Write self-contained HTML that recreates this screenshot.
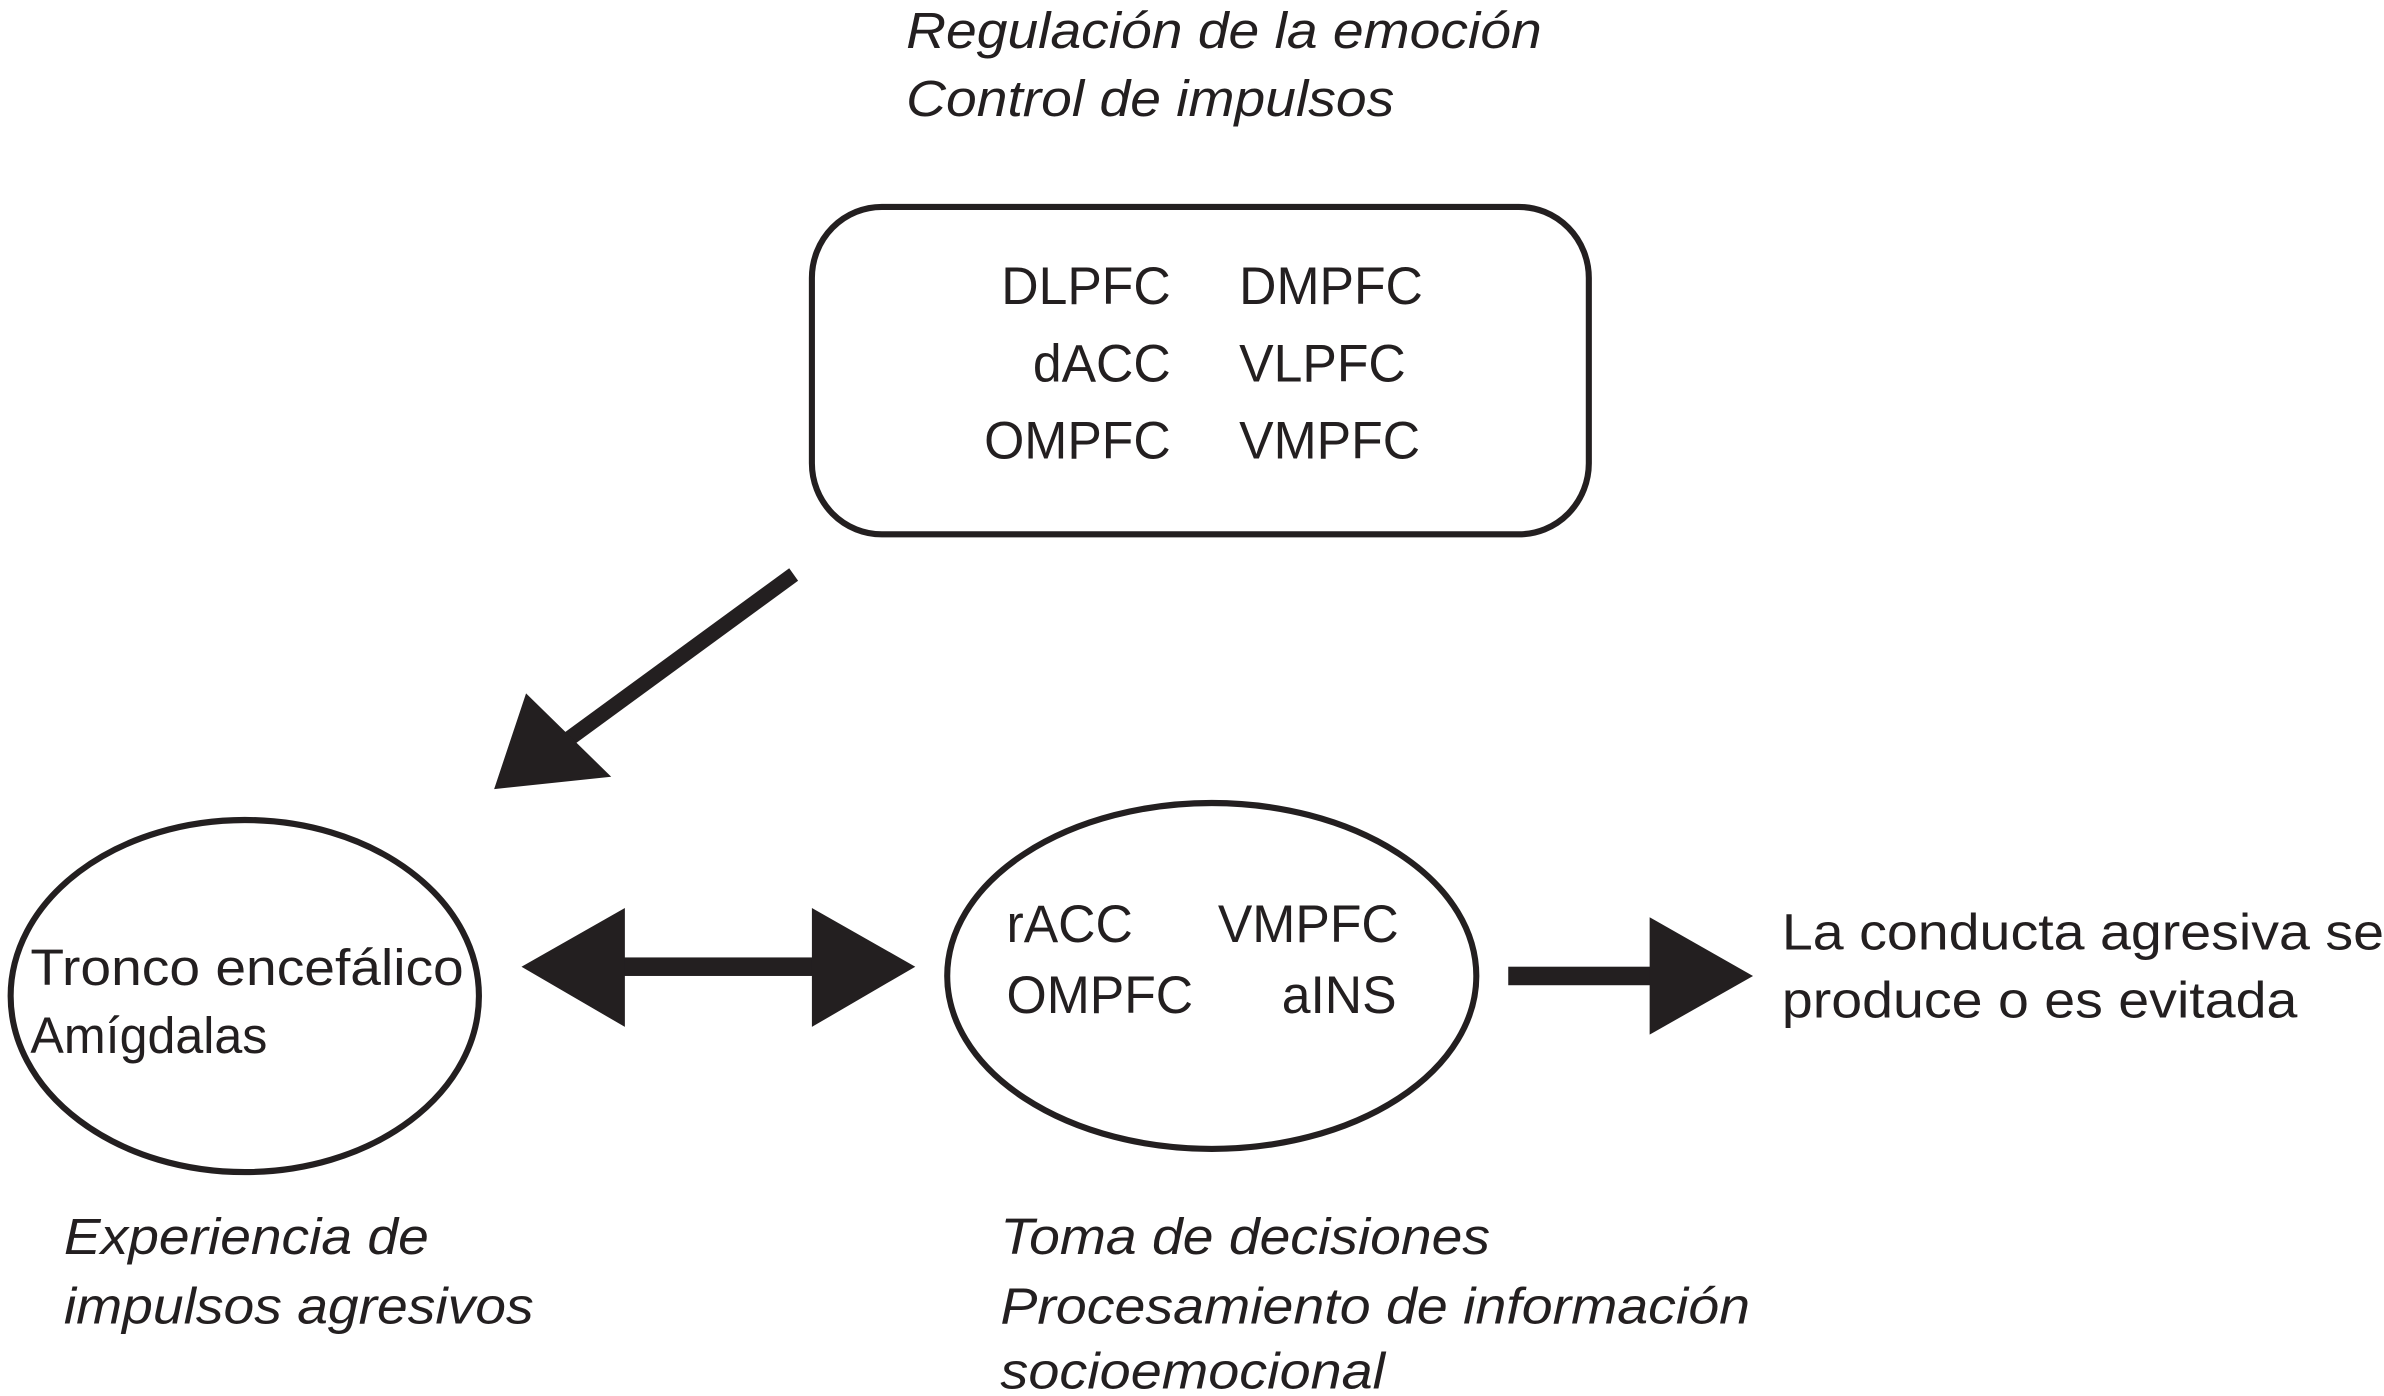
<!DOCTYPE html>
<html><head><meta charset="utf-8"><style>html,body{margin:0;padding:0;background:#fff}svg{display:block}</style></head>
<body>
<svg width="2384" height="1396" viewBox="0 0 1568 904" preserveAspectRatio="none" xmlns="http://www.w3.org/2000/svg" font-family="Liberation Sans, Arial, sans-serif" fill="#231f20">
<g font-style="italic" font-size="33">
<text x="596" y="31" textLength="418" lengthAdjust="spacingAndGlyphs">Regulación de la emoción</text>
<text x="596" y="75" textLength="321" lengthAdjust="spacingAndGlyphs">Control de impulsos</text>
<text x="42" y="812" textLength="240" lengthAdjust="spacingAndGlyphs">Experiencia de</text>
<text x="42" y="857" textLength="309" lengthAdjust="spacingAndGlyphs">impulsos agresivos</text>
<text x="658" y="812" textLength="322" lengthAdjust="spacingAndGlyphs">Toma de decisiones</text>
<text x="658" y="857" textLength="493" lengthAdjust="spacingAndGlyphs">Procesamiento de información</text>
<text x="658" y="899" textLength="253" lengthAdjust="spacingAndGlyphs">socioemocional</text>
</g>
<rect x="534" y="134" width="511" height="212" rx="46" fill="none" stroke="#231f20" stroke-width="4"/>
<g font-size="34">
<text x="770" y="197" text-anchor="end">DLPFC</text>
<text x="815" y="197">DMPFC</text>
<text x="770" y="247" text-anchor="end">dACC</text>
<text x="815" y="247">VLPFC</text>
<text x="770" y="297" text-anchor="end">OMPFC</text>
<text x="815" y="297">VMPFC</text>
</g>
<line x1="522" y1="372" x2="372" y2="480" stroke="#231f20" stroke-width="10"/>
<polygon points="325,511 346,449 402,503" />
<ellipse cx="161" cy="645" rx="154" ry="114" fill="none" stroke="#231f20" stroke-width="4"/>
<g font-size="33">
<text x="20" y="638" textLength="285" lengthAdjust="spacingAndGlyphs">Tronco encefálico</text>
<text x="20" y="682">Amígdalas</text>
</g>
<rect x="405" y="620" width="135" height="12"/>
<polygon points="343,626 411,588 411,665"/>
<polygon points="602,626 534,588 534,665"/>
<ellipse cx="797" cy="632" rx="174" ry="112" fill="none" stroke="#231f20" stroke-width="4"/>
<g font-size="34">
<text x="662" y="610">rACC</text>
<text x="801" y="610">VMPFC</text>
<text x="662" y="656">OMPFC</text>
<text x="843" y="656">aINS</text>
</g>
<rect x="992" y="626" width="100" height="12"/>
<polygon points="1085,594 1153,632 1085,670"/>
<g font-size="33">
<text x="1172" y="615" textLength="396" lengthAdjust="spacingAndGlyphs">La conducta agresiva se</text>
<text x="1172" y="659" textLength="339" lengthAdjust="spacingAndGlyphs">produce o es evitada</text>
</g>
</svg>
</body></html>
